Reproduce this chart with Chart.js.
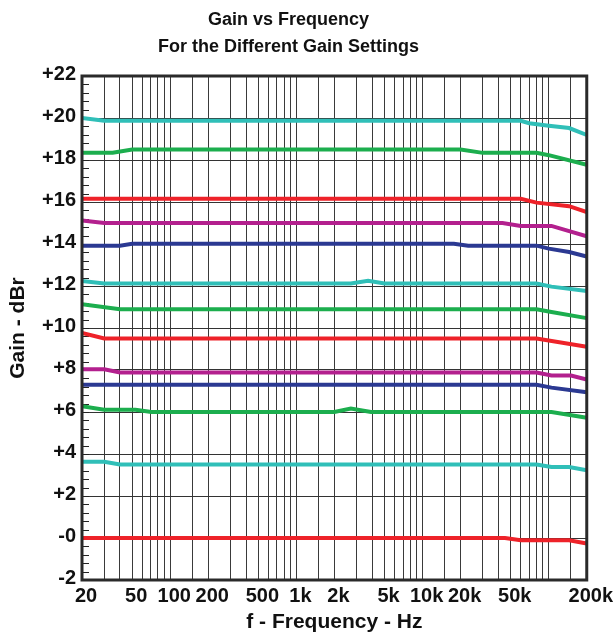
<!DOCTYPE html>
<html>
<head>
<meta charset="utf-8">
<script src="https://cdn.jsdelivr.net/npm/chart.js@4.4.1/dist/chart.umd.min.js"></script>
<style>
  body { margin: 0; background: #fff; }
  #wrap { position: relative; width: 613px; height: 639px; }
  #chart { position: absolute; left: 0; top: 0; }
  #title { position: absolute; left: 0; top: 6px; width: 577px; text-align: center;
           font: bold 18px "Liberation Sans", Arial, sans-serif; line-height: 27px; color: #111; }
</style>
</head>
<body>
<div id="wrap">
  <canvas id="chart" width="613" height="639"></canvas>
  <div id="title">Gain vs Frequency<br>For the Different Gain Settings</div>
</div>
<script>
const FONT = '"Liberation Sans", Arial, sans-serif';

// x tick labels shown on the log axis
const xTickValues = [20, 50, 100, 200, 500, 1000, 2000, 5000, 10000, 20000, 50000, 200000];
const xTickText = ['20', '50', '100', '200', '500', '1k', '2k', '5k', '10k', '20k', '50k', '200k'];

// y axis
const yMin = -2, yMax = 22, yStep = 2, yMinorStep = 0.4;

// series, top to bottom (frequency Hz, gain dBr)
const cyanAF = [20, 30, 60000, 70000, 100000, 145000, 200000];
const cyanAG = [20.0, 19.87, 19.87, 19.75, 19.63, 19.52, 19.19];

const greenAF = [20, 35, 50, 20000, 30000, 80000, 100000, 200000];
const greenAG = [18.35, 18.35, 18.5, 18.5, 18.34, 18.34, 18.23, 17.77];

const redAF = [20, 60000, 80000, 145000, 200000];
const redAG = [16.15, 16.15, 15.97, 15.8, 15.52];

const magentaAF = [20, 30, 43000, 60000, 105000, 200000];
const magentaAG = [15.12, 15.0, 15.0, 14.86, 14.86, 14.37];

const navyAF = [20, 40, 50, 17700, 23000, 80000, 100000, 145000, 200000];
const navyAG = [13.92, 13.92, 14.01, 14.01, 13.92, 13.92, 13.78, 13.62, 13.4];

const cyanBF = [20, 30, 2700, 3700, 5000, 80000, 105000, 200000];
const cyanBG = [12.24, 12.12, 12.12, 12.25, 12.12, 12.12, 11.97, 11.76];

const greenBF = [20, 40, 80000, 105000, 200000];
const greenBG = [11.13, 10.89, 10.89, 10.76, 10.47];

const redBF = [20, 30, 80000, 200000];
const redBG = [9.76, 9.5, 9.5, 9.11];

const magentaBF = [20, 30, 40, 80000, 105000, 150000, 200000];
const magentaBG = [8.03, 8.03, 7.88, 7.88, 7.74, 7.74, 7.55];

const navyBF = [20, 80000, 105000, 200000];
const navyBG = [7.3, 7.3, 7.16, 6.94];

const greenCF = [20, 30, 53, 71, 2000, 2700, 3900, 105000, 200000];
const greenCG = [6.27, 6.11, 6.11, 6.0, 6.0, 6.17, 6.0, 6.0, 5.73];

const cyanCF = [20, 30, 40, 80000, 105000, 145000, 200000];
const cyanCG = [3.63, 3.63, 3.5, 3.5, 3.38, 3.38, 3.23];

const redCF = [20, 45000, 60000, 145000, 200000];
const redCG = [0.0, 0.0, -0.11, -0.11, -0.26];

const CYAN = '#30bfb8', GREEN = '#1cae4e', RED = '#ee2229', MAGENTA = '#b3208e', NAVY = '#2b3992';

const series = [
  [cyanAF, cyanAG, CYAN], [greenAF, greenAG, GREEN], [redAF, redAG, RED],
  [magentaAF, magentaAG, MAGENTA], [navyAF, navyAG, NAVY],
  [cyanBF, cyanBG, CYAN], [greenBF, greenBG, GREEN], [redBF, redBG, RED],
  [magentaBF, magentaBG, MAGENTA], [navyBF, navyBG, NAVY],
  [greenCF, greenCG, GREEN], [cyanCF, cyanCG, CYAN], [redCF, redCG, RED]
];

const datasets = series.map(([f, g, c]) => ({
  data: f.map((x, i) => ({ x: x, y: g[i] })),
  borderColor: c,
  borderWidth: 4,
  pointRadius: 0,
  tension: 0,
  fill: false
}));

// minor ticks inside the left axis + heavy frame
const frame = {
  id: 'frame',
  beforeDatasetsDraw(chart) {
    const { ctx, chartArea: a, scales: { y } } = chart;
    ctx.save();
    ctx.strokeStyle = '#222';
    ctx.lineWidth = 1;
    for (let v = yMin; v <= yMax + 1e-6; v += yMinorStep) {
      const py = Math.round(y.getPixelForValue(v)) + 0.5;
      ctx.beginPath();
      ctx.moveTo(a.left, py);
      ctx.lineTo(a.left + 7, py);
      ctx.stroke();
    }
    ctx.restore();
  },
  afterDraw(chart) {
    const { ctx, chartArea: a } = chart;
    ctx.save();
    ctx.strokeStyle = '#2a2a2a';
    ctx.lineWidth = 3;
    ctx.strokeRect(a.left, a.top, a.right - a.left, a.bottom - a.top);
    ctx.restore();
  }
};

new Chart(document.getElementById('chart').getContext('2d'), {
  type: 'line',
  data: { datasets: datasets },
  plugins: [frame],
  options: {
    responsive: false,
    animation: false,
    layout: { padding: { top: 76, right: 6, bottom: 0, left: 0 } },
    plugins: { legend: { display: false }, tooltip: { enabled: false } },
    scales: {
      x: {
        type: 'logarithmic',
        min: 20,
        max: 200000,
        afterFit: (s) => { s.height = 59; },
        border: { display: false },
        grid: { color: '#3a3a3a', lineWidth: 1, drawTicks: false },
        ticks: {
          autoSkip: false,
          maxRotation: 0,
          padding: 4,
          labelOffset: 4,
          color: '#111',
          font: { family: FONT, size: 20, weight: 'bold' },
          callback: (v) => {
            const i = xTickValues.indexOf(v);
            return i >= 0 ? xTickText[i] : '';
          }
        },
        title: {
          display: true,
          text: 'f - Frequency - Hz',
          color: '#111',
          font: { family: FONT, size: 21, weight: 'bold' },
          padding: { top: 0, bottom: 4 }
        }
      },
      y: {
        min: yMin,
        max: yMax,
        afterFit: (s) => { s.width = 82; },
        border: { display: false },
        grid: { color: '#333', lineWidth: 1, drawTicks: false },
        ticks: {
          stepSize: yStep,
          padding: 6,
          labelOffset: -2,
          color: '#111',
          font: { family: FONT, size: 20, weight: 'bold' },
          callback: (v) => (v > 0 ? '+' + v : v === 0 ? '-0' : String(v))
        },
        title: {
          display: true,
          text: 'Gain - dBr',
          color: '#111',
          font: { family: FONT, size: 21, weight: 'bold' },
          padding: { top: 6, bottom: 0 }
        }
      }
    }
  }
});
</script>
</body>
</html>
